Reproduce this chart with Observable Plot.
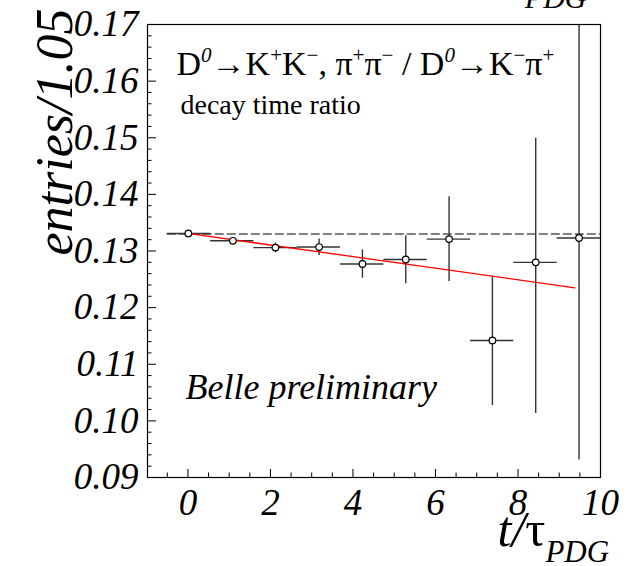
<!DOCTYPE html>
<html><head><meta charset="utf-8">
<script src="https://cdn.jsdelivr.net/npm/d3@7"></script>
<script src="https://cdn.jsdelivr.net/npm/@observablehq/plot@0.6"></script>
<style>html,body{margin:0;padding:0;background:#fff;} svg{display:block;}</style>
</head><body><div id="chart"></div>
<script>
// ---- data ----
const binLo = [-0.50, 0.55, 1.60, 2.65, 3.70, 4.75, 5.80, 6.85, 7.90, 8.95];
const binHi = [0.55, 1.60, 2.65, 3.70, 4.75, 5.80, 6.85, 7.90, 8.95, 10.00];
const tMean = [0.01, 1.09, 2.12, 3.18, 4.23, 5.28, 6.33, 7.38, 8.43, 9.48];
const ratio = [0.1331, 0.1318, 0.1306, 0.1307, 0.1277, 0.1285, 0.1321, 0.1142, 0.1280, 0.1323];
const errLo = [0.1328, 0.1315, 0.1297, 0.1292, 0.1252, 0.1242, 0.1246, 0.1027, 0.1013, 0.0931];
const errHi = [0.1334, 0.1321, 0.1314, 0.1321, 0.1302, 0.1327, 0.1396, 0.1255, 0.1499, 0.1715];
const fitT = [0.0, 9.38];
const fitR = [0.1331, 0.1235];
const refT = [-0.5, 10.0];
const refR = [0.1330, 0.1330];
const xTicks = [0, 2, 4, 6, 8, 10];
const xMinor = [-0.5, 0.5, 1, 1.5, 2.5, 3, 3.5, 4.5, 5, 5.5, 6.5, 7, 7.5, 8.5, 9, 9.5];
const yTicks = [0.09, 0.10, 0.11, 0.12, 0.13, 0.14, 0.15, 0.16, 0.17];
const yMinor = d3.range(0, 41).map(i => +(0.09 + i * 0.002).toFixed(3)).filter(v => !yTicks.some(t => Math.abs(t - v) < 1e-9));

const pts = tMean.map((t, i) => ({t, r: ratio[i], lo: binLo[i], hi: binHi[i], elo: errLo[i], ehi: errHi[i]}));
const fit = fitT.map((t, i) => ({t, r: fitR[i]}));
const ref = refT.map((t, i) => ({t, r: refR[i]}));

const W = 631, H = 566, ML = 147, MR = 31, MT = 24, MB = 89;
const FW = W - ML - MR, FH = H - MT - MB;
const serif = "Liberation Serif";

const chart = Plot.plot({
  width: W, height: H,
  marginLeft: ML, marginRight: MR, marginTop: MT, marginBottom: MB,
  x: {domain: [-0.98, 10], axis: null},
  y: {domain: [0.09, 0.17], axis: null},
  style: {fontFamily: serif, background: "white", overflow: "visible", color: "black"},
  marks: [
    Plot.ruleX(xTicks, {x: d => d, insetTop: FH - 8, stroke: "black"}),
    Plot.ruleX(xMinor, {x: d => d, insetTop: FH - 4.5, stroke: "black"}),
    Plot.ruleY(yTicks, {y: d => d, insetRight: FW - 9, stroke: "black"}),
    Plot.ruleY(yMinor, {y: d => d, insetRight: FW - 4.5, stroke: "black"}),
    Plot.line(ref, {x: "t", y: "r", stroke: "#555", strokeWidth: 1.3, strokeDasharray: "8,4"}),
    Plot.ruleY(pts, {y: "r", x1: "lo", x2: "hi", stroke: "#333", strokeWidth: 1.4}),
    Plot.ruleX(pts, {x: "t", y1: "elo", y2: "ehi", stroke: "#333", strokeWidth: 1.4, clip: true}),
    Plot.line(fit, {x: "t", y: "r", stroke: "#ff0000", strokeWidth: 1.3}),
    Plot.dot(pts, {x: "t", y: "r", r: 3.3, fill: "white", stroke: "black", strokeWidth: 1.2}),
    Plot.frame({stroke: "black", strokeWidth: 1.2}),
    Plot.axisX(xTicks, {anchor: "bottom", tickSize: 0, tickPadding: 11, fontSize: 37, fontFamily: serif, fontStyle: "italic", fontVariant: "normal", tickFormat: d => String(d)}),
    Plot.axisY(yTicks, {anchor: "left", tickSize: 0, tickPadding: 9, fontSize: 37, fontFamily: serif, fontStyle: "italic", fontVariant: "normal", tickFormat: d3.format(".2f"), label: null}),
    Plot.text(["entries/1.05"], {frameAnchor: "top-left", dx: -76, dy: -16, rotate: -90, textAnchor: "end", lineAnchor: "bottom", fontSize: 52, fontFamily: serif, fontStyle: "italic"}),
    Plot.text(["@XT"], {frameAnchor: "bottom-left", dx: 350, dy: 68, textAnchor: "start", lineAnchor: "bottom", fontSize: 50, fontFamily: serif}),
    Plot.text(["PDG"], {frameAnchor: "top-right", dx: -14, dy: -17, textAnchor: "end", lineAnchor: "bottom", fontSize: 30, fontFamily: serif, fontStyle: "italic"}),
    Plot.text(["@TITLE"], {frameAnchor: "top-left", dx: 29, dy: 50, textAnchor: "start", lineAnchor: "bottom", fontSize: 34, fontFamily: serif}),
    Plot.text(["decay time ratio"], {frameAnchor: "top-left", dx: 33, dy: 89, textAnchor: "start", lineAnchor: "bottom", fontSize: 28, fontFamily: serif}),
    Plot.text(["Belle preliminary"], {frameAnchor: "top-left", dx: 38, dy: 374, textAnchor: "start", lineAnchor: "bottom", fontSize: 36, fontFamily: serif, fontStyle: "italic"})
  ]
});
document.getElementById("chart").appendChild(chart);

function richify(key, parts) {
  d3.select(chart).selectAll("text").filter(function () { return this.textContent === key; }).each(function () {
    const el = d3.select(this);
    el.text(null);
    let shift = 0;
    for (const p of parts) {
      const ts = el.append("tspan").text(p.t);
      const target = p.dy || 0;
      if (target !== shift) { ts.attr("dy", target - shift); shift = target; }
      if (p.size) ts.attr("font-size", p.size);
      if (p.style) ts.attr("font-style", p.style);
    }
  });
}
const S = 21, U = -13;
richify("@TITLE", [
  {t: "D"}, {t: "0", size: S, dy: U, style: "italic"}, {t: "\u2192"}, {t: "K"}, {t: "+", size: S, dy: U},
  {t: "K"}, {t: "\u2212", size: S, dy: U}, {t: ", \u03C0"}, {t: "+", size: S, dy: U}, {t: "\u03C0"}, {t: "\u2212", size: S, dy: U},
  {t: " / D"}, {t: "0", size: S, dy: U, style: "italic"}, {t: "\u2192"}, {t: "K"}, {t: "\u2212", size: S, dy: U},
  {t: "\u03C0"}, {t: "+", size: S, dy: U}
]);
richify("@XT", [
  {t: "t/", style: "italic"}, {t: "\u03C4"}, {t: "PDG", size: 31, style: "italic", dy: 16}
]);
</script>
</body></html>
